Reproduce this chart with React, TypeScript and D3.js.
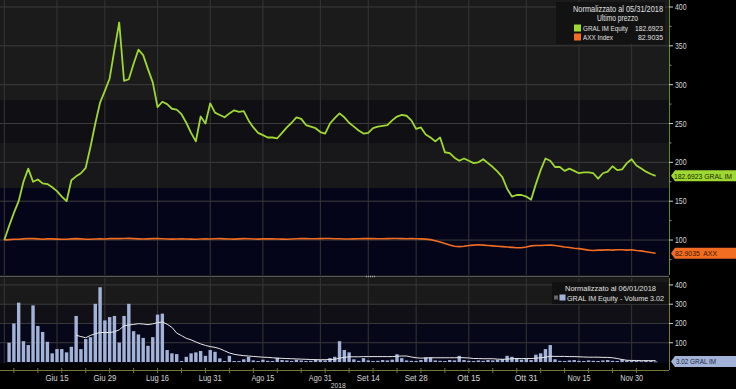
import React from 'react';
import * as d3 from 'd3';

// ---------- DATA ----------
const startDate = new Date(2018, 4, 31);
const endDateExclusive = new Date(2018, 11, 8);
const tradingDays: Date[] = d3.timeDay
  .range(startDate, endDateExclusive)
  .filter((d) => d.getDay() !== 0 && d.getDay() !== 6);

const gralValues: number[] = [
  100, 118, 135, 150, 175, 192, 175, 178, 173, 172, 168, 163, 156, 150, 177, 182, 186, 193, 220, 250,
  277, 292, 308, 345, 380, 305, 307, 327, 345, 338, 320, 303, 271, 278, 275, 269, 268, 262, 251, 238,
  227, 259, 250, 276, 264, 261, 258, 263, 267, 265, 266, 254, 245, 238, 235, 232, 232, 231, 238, 245,
  251, 258, 256, 248, 246, 244, 239, 237, 250, 257, 263, 258, 251, 246, 241, 237, 238, 244, 246, 247,
  248, 254, 259, 261, 260, 254, 243, 245, 236, 232, 227, 232, 213, 212, 206, 202, 205, 202, 199, 200,
  204, 199, 194, 188, 181, 166, 156, 158, 158, 156, 152, 172, 190, 205, 202, 194, 194, 189, 192, 189,
  186, 187, 187, 186, 179, 186, 188, 195, 190, 191, 199, 204, 196, 192, 188, 185, 182.6923,
];

const axxValues: number[] = [
  100, 100.5, 101, 101, 101.5, 102, 101.8, 101.5, 101, 101.5, 101.5, 101.2, 101, 101, 101.5, 101.8, 101.5, 101, 101, 101.3,
  101.6, 101.4, 101.8, 102, 101.8, 102, 102.2, 101.8, 101.5, 101.3, 101.5, 101.8, 101.8, 101.6, 101.4, 101.2, 101.4, 101.6, 101.3, 101.2,
  101, 101.3, 101.5, 101.4, 101.6, 101.8, 101.5, 101.3, 101.2, 101.5, 101.8, 101.6, 101.4, 101.2, 101.5, 101.7, 101.5, 101.3, 101.2, 101,
  101.3, 101.6, 101.8, 101.9, 101.7, 101.6, 101.8, 102, 101.9, 101.7, 101.6, 101.4, 101.3, 101.5, 101.7, 101.8, 101.9, 101.8, 101.6, 101.7,
  101.8, 101.9, 102, 101.8, 101.7, 101.8, 101.6, 101.5, 101.2, 100.5, 99, 97.5, 95.5, 93.5, 92, 91.5, 92, 93, 93.5, 94,
  93.5, 93, 92.5, 92, 91.5, 91, 90.5, 90, 90, 91, 92.5, 93, 93, 93.2, 93.5, 93, 92, 91, 90.5, 89.5,
  89, 88, 87, 86.5, 87, 87, 87.5, 87, 87.5, 87.5, 87, 87.5, 86.5, 86, 85, 84, 82.9035,
];

const volumeValues: number[] = [
  0, 100, 200, 308, 108, 88, 294, 187, 156, 105, 45, 67, 67, 50, 79, 239, 67, 119, 129, 302,
  388, 216, 233, 239, 101, 239, 302, 160, 143, 125, 84, 129, 246, 251, 62, 45, 41, 5, 27, 45,
  50, 57, 32, 62, 53, 19, 5, 32, 5, 5, 14, 27, 8, 5, 12, 6, 5, 22, 10, 8,
  5, 12, 8, 5, 6, 14, 10, 8, 20, 27, 108, 62, 50, 14, 6, 20, 8, 5, 6, 10,
  8, 12, 40, 20, 8, 6, 5, 10, 24, 24, 8, 6, 5, 10, 8, 32, 10, 6, 5, 8,
  6, 10, 8, 12, 15, 32, 27, 20, 12, 15, 10, 38, 45, 67, 88, 14, 6, 5, 8, 10,
  6, 5, 8, 6, 5, 8, 10, 6, 5, 12, 8, 6, 5, 4, 6, 5, 3.02,
];

// 15-day average line (starts at trading day 15)
const volumeAvgStart = 15;
const volumeAvgValues: number[] = [
  139, 132, 126, 138, 147, 153, 153, 153, 157, 167, 188, 192, 195, 199, 197, 194, 198, 204, 208, 196,
  180, 150, 137, 123, 115, 104, 94, 86, 80, 76, 69, 58, 47, 40, 36, 33, 31, 29, 27, 25,
  24, 22, 20, 19, 18, 17, 16, 15, 14, 13, 12, 12, 12, 13, 14, 20, 24, 27, 27, 27,
  28, 28, 28, 28, 28, 28, 28, 30, 31, 31, 26, 22, 20, 21, 22, 22, 22, 22, 22, 22,
  23, 22, 21, 18, 18, 17, 17, 17, 15, 14, 15, 17, 18, 18, 18, 18, 20, 22, 25, 30,
  29, 29, 29, 28, 28, 27, 26, 25, 25, 25, 24, 24, 22, 18, 13, 9, 8, 8, 7, 7,
  7, 7,
];

const tickDates: string[] = ['2018-06-15', '2018-06-29', '2018-07-16', '2018-07-31', '2018-08-15', '2018-08-31', '2018-09-14', '2018-09-28', '2018-10-15', '2018-10-31', '2018-11-15', '2018-11-30'];
const tickLabels: string[] = ['Giu 15', 'Giu 29', 'Lug 16', 'Lug 31', 'Ago 15', 'Ago 31', 'Set 14', 'Set 28', 'Ott 15', 'Ott 31', 'Nov 15', 'Nov 30'];
const yearLabel = '2018';

const mainTicks: number[] = [100, 150, 200, 250, 300, 350, 400];
const mainMinorTicks: number[] = [75, 125, 175, 225, 275, 325, 375];
const volTicks: number[] = [100, 200, 300, 400];

const legendMainTitle = 'Normalizzato al 05/31/2018';
const legendMainSub = 'Ultimo prezzo';
const seriesNames: string[] = ['GRAL IM Equity', 'AXX Index'];
const seriesLast: string[] = ['182.6923', '82.9035'];
const legendVolTitle = 'Normalizzato al 06/01/2018';
const legendVolText = 'GRAL IM Equity - Volume 3.02';
const tagTexts: string[] = ['182.6923 GRAL IM', '82.9035  AXX', '3.02 GRAL IM'];

// ---------- LAYOUT ----------
const W = 736;
const H = 389;
const PR = 669; // plot right
const MAIN_B = 275;
const VOL_T = 278;
const VOL_B = 363;
const FONT = "'Liberation Sans', Arial, sans-serif";

const GREEN = '#9fd832';
const ORANGE = '#f26d21';
const BAR = '#a3b3d8';
const TXT = '#e0e0e0';

function dateIndex(s: string): number {
  const [yy, mm, dd] = s.split('-').map(Number);
  const t = new Date(yy, mm - 1, dd).getTime();
  return tradingDays.findIndex((d) => d.getTime() === t);
}

type FitProps = { x: number; y: number; w: number; size?: number; fill?: string; anchor?: 'start' | 'middle' | 'end'; children: string };
function FitText({ x, y, w, size = 8, fill = TXT, anchor = 'start', children }: FitProps) {
  return (
    <text x={x} y={y} fontSize={size} fill={fill} textAnchor={anchor} textLength={w} lengthAdjust="spacingAndGlyphs" style={{ whiteSpace: 'pre' }}>
      {children}
    </text>
  );
}

export default function App() {
  const x = d3.scaleLinear().domain([-0.9, 138.8]).range([0, PR]);
  const yMain = d3.scaleLinear().domain([55, 409]).range([MAIN_B, 0]);
  const yVol = d3.scaleLinear().domain([0, 436]).range([362, VOL_T]);

  const lineMain = d3
    .line<number>()
    .x((_, i) => x(i))
    .y((v) => yMain(v));
  const lineAvg = d3
    .line<number>()
    .x((_, i) => x(i + volumeAvgStart))
    .y((v) => yVol(v));

  const tickIdx = tickDates.map(dateIndex);
  const mondays = tradingDays.map((d, i) => ({ d, i })).filter((o) => o.d.getDay() === 1);
  const barW = 3.4;

  const tagPath = (x0: number, yc: number, w: number, h: number) =>
    `M${x0},${yc} L${x0 + 4},${yc - h / 2} L${x0 + w},${yc - h / 2} L${x0 + w},${yc + h / 2} L${x0 + 4},${yc + h / 2} Z`;

  const gTagY = yMain(gralValues[gralValues.length - 1]);
  const aTagY = yMain(axxValues[axxValues.length - 1]);
  const vTagY = yVol(volumeValues[volumeValues.length - 1]);

  return (
    <svg
      width={W}
      height={H}
      style={{ position: 'absolute', left: 0, top: 0, display: 'block' }}
      fontFamily={FONT}
    >
      <rect x={0} y={0} width={W} height={H} fill="#000" />
      {/* main panel background bands */}
      <rect x={0} y={0} width={PR} height={100} fill="#1b1b1b" />
      <rect x={0} y={100} width={PR} height={43} fill="#101014" />
      <rect x={0} y={143} width={PR} height={45} fill="#18181a" />
      <rect x={0} y={188} width={PR} height={MAIN_B - 188} fill="#05051a" />
      {/* volume panel background */}
      <rect x={0} y={VOL_T} width={PR} height={27} fill="#1a1a1a" />
      <rect x={0} y={VOL_T + 27} width={PR} height={18} fill="#101016" />
      <rect x={0} y={VOL_T + 45} width={PR} height={VOL_B - VOL_T - 45} fill="#07071a" />

      {/* horizontal grid */}
      {mainTicks.map((t) => (
        <line key={'hg' + t} x1={0} x2={PR} y1={yMain(t)} y2={yMain(t)} stroke="#3d3d3d" strokeWidth={1} />
      ))}
      {volTicks.map((t) => (
        <line key={'vg' + t} x1={0} x2={PR} y1={yVol(t)} y2={yVol(t)} stroke="#3a3a3a" strokeWidth={1} />
      ))}
      {/* vertical grid */}
      {[0, ...tickIdx].map((i) => (
        <g key={'vgl' + i}>
          <line x1={x(i)} x2={x(i)} y1={0} y2={MAIN_B} stroke="#363636" strokeWidth={1} />
          <line x1={x(i)} x2={x(i)} y1={VOL_T} y2={VOL_B} stroke="#363636" strokeWidth={1} />
        </g>
      ))}

      {/* separator between panels */}
      <line x1={0} x2={PR} y1={276.5} y2={276.5} stroke="#5a5a5a" strokeWidth={1.5} />
      <line x1={366} x2={376} y1={276.5} y2={276.5} stroke="#aaa" strokeWidth={1.5} strokeDasharray="1 1" />

      {/* lines */}
      <path d={lineMain(axxValues) || ''} fill="none" stroke={ORANGE} strokeWidth={1.6} />
      <path d={lineMain(gralValues) || ''} fill="none" stroke={GREEN} strokeWidth={1.8} strokeLinejoin="round" />

      {/* volume bars */}
      {volumeValues.map((v, i) =>
        v > 0 ? (
          <rect key={'b' + i} x={x(i) - barW / 2} y={yVol(v)} width={barW} height={Math.max(0.8, yVol(0) - yVol(v))} fill={BAR} />
        ) : null
      )}
      <path d={lineAvg(volumeAvgValues) || ''} fill="none" stroke="#e8e8e8" strokeWidth={1} />

      {/* right axis lines */}
      <line x1={PR + 0.5} x2={PR + 0.5} y1={0} y2={MAIN_B} stroke="#5f8a2a" strokeWidth={1} />
      <line x1={PR + 0.5} x2={PR + 0.5} y1={VOL_T} y2={370} stroke="#7a7a34" strokeWidth={1} />
      {/* x axis line */}
      <line x1={0} x2={PR} y1={370.5} y2={370.5} stroke="#77773a" strokeWidth={1} />
      {mondays.map((o) => (
        <line key={'mt' + o.i} x1={x(o.i)} x2={x(o.i)} y1={368} y2={373} stroke="#77773a" strokeWidth={1} />
      ))}
      {tickIdx.map((i, k) => (
        <FitText key={'xl' + k} x={x(i)} y={381} w={23} size={8.5} anchor="middle" fill="#d8d8d8">
          {tickLabels[k]}
        </FitText>
      ))}
      <FitText x={x(tickIdx[5]) + 18} y={387.5} w={15} size={8} anchor="middle" fill="#d8d8d8">
        {yearLabel}
      </FitText>

      {/* main right ticks */}
      {mainTicks.map((t) => (
        <g key={'mtk' + t}>
          <line x1={PR} x2={PR + 4} y1={yMain(t)} y2={yMain(t)} stroke="#cfcfcf" strokeWidth={1} />
          <FitText x={PR + 6} y={yMain(t) + 3} w={11.5} size={8.5} fill="#d8d8d8">
            {String(t)}
          </FitText>
        </g>
      ))}
      {mainMinorTicks.map((t) => (
        <line key={'mmt' + t} x1={PR} x2={PR + 2.5} y1={yMain(t)} y2={yMain(t)} stroke="#888" strokeWidth={1} />
      ))}
      {volTicks.map((t) => (
        <g key={'vtk' + t}>
          <line x1={PR} x2={PR + 4} y1={yVol(t)} y2={yVol(t)} stroke="#cfcfcf" strokeWidth={1} />
          <FitText x={PR + 6} y={yVol(t) + 3} w={11.5} size={8.5} fill="#d8d8d8">
            {String(t)}
          </FitText>
        </g>
      ))}

      {/* right value tags */}
      <path d={tagPath(PR + 2, gTagY, W - PR - 2, 11)} fill={GREEN} />
      <FitText x={PR + 5} y={gTagY + 3} w={58} size={7} fill="#1a2a00">
        {tagTexts[0]}
      </FitText>
      <path d={tagPath(PR + 2, aTagY, W - PR - 2, 11)} fill={ORANGE} />
      <FitText x={PR + 6} y={aTagY + 3} w={42} size={7.5} fill="#3a1500">
        {tagTexts[1]}
      </FitText>
      <path d={tagPath(PR + 2, vTagY, W - PR - 2, 11)} fill={BAR} />
      <FitText x={PR + 7} y={vTagY + 3} w={40} size={7.5} fill="#1c2540">
        {tagTexts[2]}
      </FitText>

      {/* main legend */}
      <rect x={556} y={2} width={109} height={42} fill="#121212" />
      <FitText x={618} y={12} w={90} size={8.5} anchor="middle">
        {legendMainTitle}
      </FitText>
      <FitText x={617.5} y={21} w={41} size={8.5} anchor="middle">
        {legendMainSub}
      </FitText>
      {seriesNames.map((name, k) => (
        <g key={'lg' + k}>
          <rect x={574} y={24.5 + k * 9} width={7} height={7} fill={k === 0 ? GREEN : ORANGE} />
          <FitText x={583} y={31 + k * 9} w={k === 0 ? 45 : 30} size={6.6}>
            {name}
          </FitText>
          <FitText x={663} y={31 + k * 9} w={k === 0 ? 28 : 25} size={6.6} anchor="end">
            {seriesLast[k]}
          </FitText>
        </g>
      ))}

      {/* volume legend */}
      <rect x={552} y={282} width={116} height={22} fill="#111" />
      <FitText x={610.5} y={291} w={91} size={8} anchor="middle">
        {legendVolTitle}
      </FitText>
      <rect x={554} y={295.5} width={4} height={4} fill="#666" />
      <rect x={559.5} y={294.5} width={6} height={6} fill={BAR} />
      <FitText x={567} y={301} w={97} size={7.2}>
        {legendVolText}
      </FitText>
    </svg>
  );
}
